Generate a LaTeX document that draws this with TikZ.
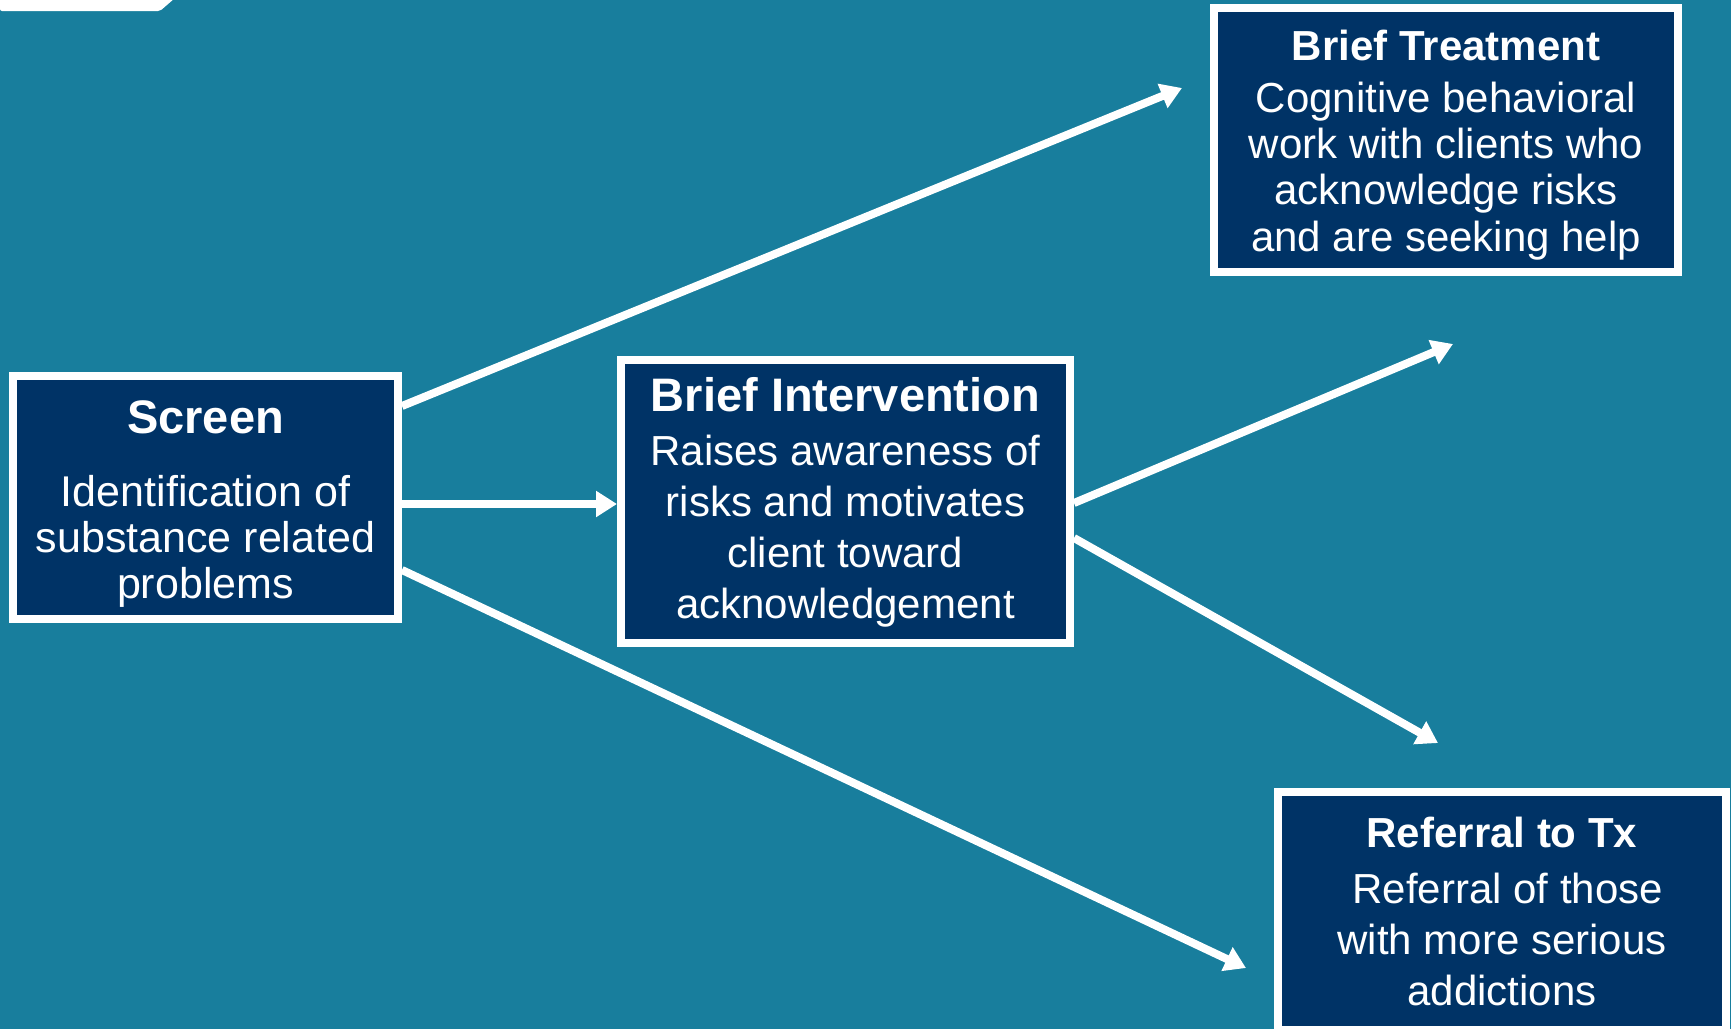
\documentclass[tikz,border=0pt]{standalone}
\usepackage{fontspec}
\setmainfont{Liberation Sans}
\usetikzlibrary{arrows.meta,calc}
\definecolor{bgteal}{RGB}{24,126,157}
\definecolor{navy}{RGB}{0,51,102}
\tikzset{
  box/.style={draw=white, fill=navy, line width=8pt, inner sep=0pt, outer sep=4pt},
  headA/.style={text=white, anchor=base, inner sep=0pt, font=\fontsize{47}{52}\selectfont\bfseries},
  headB/.style={text=white, anchor=base, inner sep=0pt, font=\fontsize{42}{46}\selectfont\bfseries},
  bodyA/.style={text=white, anchor=base, inner sep=0pt, align=center, font=\fontsize{43}{46}\selectfont},
  bodyB/.style={text=white, anchor=base, inner sep=0pt, align=center, font=\fontsize{42}{51}\selectfont},
  bodyC/.style={text=white, anchor=base, inner sep=0pt, align=center, font=\fontsize{42}{46.3}\selectfont},
  arr/.style={draw=white, line width=8pt, -{Triangle[length=21pt,width=25pt]}}
}
\begin{document}
\begin{tikzpicture}[x=1pt,y=-1pt]
\useasboundingbox (0,0) rectangle (1731,1029);
\fill[bgteal] (0,0) rectangle (1731,1029);
\clip (0,0) rectangle (1731,1029);
% top-left tab
\fill[white, rounded corners=2pt] (0,-2) -- (175,-2) -- (160,11) -- (0,11) -- cycle;

% boxes
\node[box, minimum width=385pt, minimum height=243pt] (screen) at (205.5,497.5) {};
\node[box, minimum width=449pt, minimum height=283pt] (bi) at (845.5,501.5) {};
\node[box, minimum width=464pt, minimum height=264pt] (bt) at (1446,140) {};
\node[box, minimum width=448pt, minimum height=238pt] (rt) at (1502,911) {};

% texts (body nodes anchored at the baseline of their last line)
\node[headA] (screenH) at (205.5,433) {Screen};
\node[bodyA] (screenB) at (205.5,598) {Identification of\\substance related\\problems};
\node[headA] (biH) at (845.5,411) {Brief Intervention};
\node[bodyB] (biB) at (845.5,618) {Raises awareness of\\risks and motivates\\client toward\\acknowledgement};
\node[headB] (btH) at (1446,60) {Brief Treatment};
\node[bodyC] (btB) at (1446,251) {Cognitive behavioral\\work with clients who\\acknowledge risks\\and are seeking help};
\node[headB] (rtH) at (1502,847) {Referral to Tx};
\node[bodyB] (rtB) at (1502,1005) {\hspace*{11.7pt}Referral of those\\with more serious\\addictions};

% free ends
\coordinate (tipUp) at (1453,344);
\coordinate (tipDown) at (1438,743);

% connectors
\draw[arr] ([yshift=91.5pt]screen.east) -- ([xshift=-28pt,yshift=52pt]bt.west);
\draw[arr] ([yshift=-6.5pt]screen.east) coordinate (s2) -- (s2 -| bi.west);
\draw[arr] ([yshift=-72.5pt]screen.east) -- ([xshift=-28pt,yshift=-57pt]rt.west);
\draw[arr] ([yshift=-1.5pt]bi.east) -- (tipUp);
\draw[arr] ([yshift=-36.5pt]bi.east) -- (tipDown);
\end{tikzpicture}
\end{document}
